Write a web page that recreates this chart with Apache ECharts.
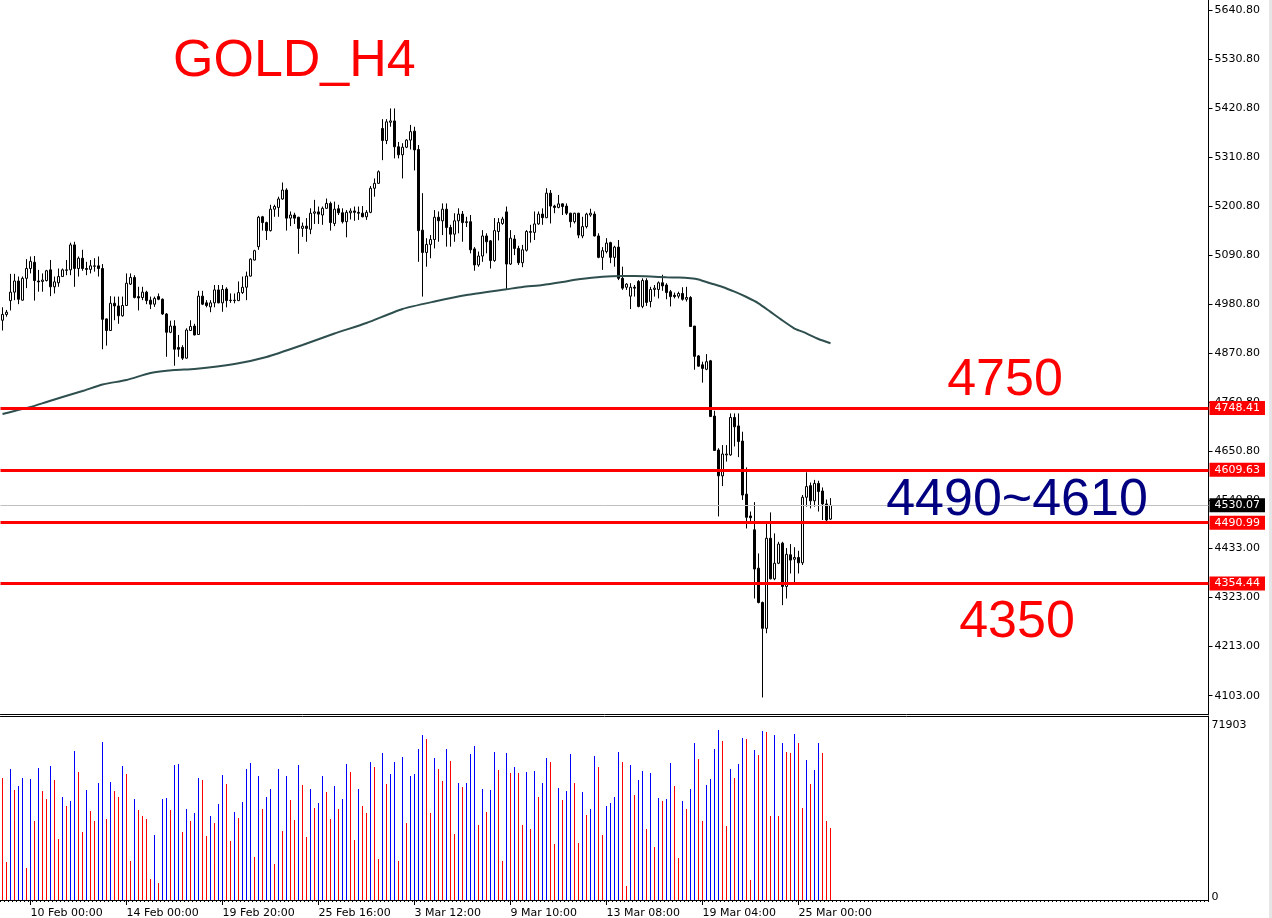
<!DOCTYPE html>
<html>
<head>
<meta charset="utf-8">
<script src="https://cdn.jsdelivr.net/npm/echarts@6/dist/echarts.min.js"></script>
<style>
html,body{margin:0;padding:0;background:#fff;}
#chart{width:1272px;height:918px;}
</style>
</head>
<body>
<div id="chart"></div>
<script>
// ---- data ----
const tickLabels = ['10 Feb 00:00','14 Feb 00:00','19 Feb 20:00','25 Feb 16:00','3 Mar 12:00','9 Mar 10:00','13 Mar 08:00','19 Mar 04:00','25 Mar 00:00'];
const tickStartBar = 7;
const tickStep = 24;
const slotCount = 302;

const opens = [4945,4958,4989,5008,5033,4990,5039,5061,5075,5033,
5032,5034,5058,5020,5029,5043,5057,5058,5114,5061,
5084,5061,5059,5066,5067,5061,4948,4922,4983,4977,
4955,4978,5026,5041,4998,4996,5008,4990,4981,4998,
4992,4959,4918,4932,4884,4884,4860,4922,4932,4913,
4999,4984,4975,4984,5013,4984,5015,4989,4990,4989,
5007,5019,5044,5080,5110,5177,5164,5146,5194,5198,
5217,5237,5174,5181,5176,5151,5156,5149,5185,5188,
5181,5196,5207,5162,5195,5186,5166,5186,5190,5187,
5185,5177,5187,5241,5252,5375,5348,5389,5392,5334,
5316,5333,5349,5369,5328,5147,5097,5115,5126,5176,
5168,5194,5153,5138,5168,5183,5164,5166,5105,5069,
5089,5134,5123,5079,5144,5162,5188,5071,5127,5106,
5074,5102,5142,5142,5161,5183,5175,5230,5201,5198,
5206,5201,5185,5166,5185,5134,5155,5181,5183,5134,
5086,5099,5119,5086,5109,5039,5019,4999,5019,5032,
4976,5034,4987,5014,5014,5029,5024,5009,5001,4999,
5005,4992,4996,4932,4865,4845,4835,4854,4730,4654,
4596,4643,4643,4727,4708,4674,4555,4506,4475,4389,
4312,4254,4456,4365,4400,4445,4348,4419,4409,4413,
4401,4548,4574,4540,4579,4562,4533,4499];

const highs = [4974,4968,5049,5049,5043,5043,5082,5088,5089,5058,
5050,5058,5080,5043,5061,5061,5080,5119,5121,5088,
5103,5076,5080,5084,5088,5071,4949,4999,4998,4998,
4998,5050,5050,5046,5020,5020,5011,4998,4998,5005,
4994,4961,4944,4945,4912,4889,4927,4945,4937,5011,
5011,4990,4990,5024,5024,5024,5019,5005,5005,5032,
5043,5054,5084,5103,5179,5179,5166,5204,5204,5222,
5254,5241,5189,5186,5177,5164,5174,5196,5215,5200,
5200,5218,5211,5211,5204,5196,5192,5196,5200,5200,
5201,5192,5246,5263,5281,5396,5396,5420,5420,5345,
5342,5351,5383,5379,5338,5230,5129,5136,5192,5189,
5207,5207,5159,5185,5196,5190,5177,5181,5109,5099,
5147,5140,5125,5174,5174,5177,5200,5147,5136,5112,
5114,5147,5159,5189,5189,5196,5241,5237,5204,5226,
5207,5207,5186,5186,5186,5177,5186,5195,5189,5140,
5109,5129,5121,5112,5125,5065,5028,5028,5024,5035,
5039,5039,5020,5024,5032,5047,5028,5013,5007,5009,
5019,5020,4999,4932,4867,4852,4869,4856,4742,4658,
4665,4665,4736,4736,4736,4695,4615,4516,4537,4422,
4314,4490,4514,4467,4448,4448,4434,4443,4436,4428,
4553,4604,4581,4587,4585,4570,4543,4546];

const lows = [4922,4953,4967,4990,4981,4989,5017,5050,4989,5009,
5009,5032,4999,5005,5020,5043,5046,5046,5020,5043,
5056,5046,5050,5054,5043,4880,4888,4921,4945,4937,
4953,4977,5024,4994,4967,4990,4981,4970,4975,4990,
4957,4863,4916,4843,4863,4856,4859,4921,4911,4912,
4979,4974,4963,4974,4983,4964,4974,4984,4983,4988,
5004,4990,5043,5079,5103,5146,5125,5144,5177,5177,
5215,5146,5156,5161,5094,5132,5121,5138,5161,5161,
5159,5195,5146,5156,5181,5162,5131,5171,5168,5170,
5176,5170,5185,5222,5251,5304,5340,5379,5308,5308,
5263,5331,5328,5281,5076,4998,5065,5084,5106,5121,
5136,5110,5110,5121,5140,5121,5154,5095,5056,5065,
5076,5095,5061,5076,5124,5159,5014,5069,5091,5069,
5064,5099,5119,5125,5159,5159,5174,5162,5185,5196,
5181,5181,5153,5162,5129,5129,5151,5177,5133,5084,
5058,5095,5073,5065,5035,5013,5013,4970,4998,4974,
4972,4977,4974,4998,4994,5011,4992,4976,4994,4994,
4989,4987,4931,4834,4841,4805,4833,4729,4653,4505,
4573,4628,4641,4662,4638,4542,4478,4493,4321,4310,
4099,4243,4364,4362,4398,4306,4321,4377,4356,4377,
4396,4527,4523,4527,4516,4497,4493,4497];

const closes = [4958,4963,5008,5033,4992,5039,5061,5077,5034,5031,
5035,5056,5020,5031,5043,5058,5058,5114,5061,5084,
5061,5059,5067,5067,5061,4947,4922,4983,4977,4955,
4978,5028,5041,4996,4995,5008,4989,4981,4994,4992,
4959,4918,4932,4880,4880,4860,4923,4931,4912,4999,
4981,4978,4984,5013,4984,5014,4989,4990,4989,5007,
5019,5044,5082,5101,5176,5164,5146,5194,5200,5217,
5237,5174,5181,5174,5151,5156,5151,5185,5188,5183,
5196,5207,5164,5194,5186,5166,5187,5190,5187,5185,
5177,5187,5241,5252,5278,5348,5390,5392,5334,5316,
5333,5349,5368,5327,5146,5097,5115,5126,5176,5168,
5194,5153,5138,5168,5183,5164,5166,5103,5069,5089,
5134,5121,5079,5146,5164,5172,5071,5129,5106,5074,
5103,5144,5144,5161,5183,5175,5230,5201,5198,5206,
5200,5185,5166,5185,5136,5155,5183,5185,5134,5086,
5101,5118,5086,5109,5039,5017,5026,5019,5017,4976,
5034,4985,5014,5017,5029,5022,5007,4998,4998,5005,
4992,4996,4931,4864,4842,4837,4852,4729,4653,4596,
4645,4645,4727,4706,4673,4553,4503,4502,4387,4312,
4254,4456,4365,4400,4443,4348,4420,4407,4413,4401,
4548,4572,4540,4579,4561,4533,4497,4530.07];

const volumes = [51606,16074,55413,46530,48222,51606,13536,51183,33417,55836,
46107,42723,56682,50760,25803,43569,39762,41877,63027,54144,
28764,46530,37647,33417,49491,66834,34263,49914,46107,43569,
56682,53298,16497,42723,38070,35532,34263,8883,27495,7191,
42723,43146,38070,57105,57528,28764,38493,33417,36801,51606,
50760,27072,35532,32571,40608,52875,49068,24957,37224,34686,
41454,55413,57951,18189,52452,38493,43569,46953,15228,55413,
29187,52452,42300,33840,57105,48645,26649,46953,38916,41031,
52452,45684,34263,48222,38493,42723,57528,54144,25380,46953,
39762,36801,58374,56259,17343,62181,49068,53298,58374,16497,
60489,32571,52452,53298,63873,69795,68103,36801,60066,55413,
50337,63873,58797,27918,49491,47799,49491,61758,65142,31725,
46953,37224,46530,62604,54990,16497,62181,53721,56259,53721,
31725,54144,30033,54567,43569,49491,60066,58374,23688,47376,
42300,46107,61758,49491,24111,45684,35955,38493,60912,56259,
27495,39762,41031,43569,62604,58374,5922,57105,44415,50760,
54567,30033,53721,22419,43146,41877,42723,57951,48222,17766,
41877,38493,46953,66411,59643,33417,48645,51183,63873,71903,
67257,31302,55413,51606,57528,68526,68103,8460,63450,61335,
71487,71064,35532,69795,35532,66411,62604,62181,70218,66411,
38916,59220,49068,54990,66411,62181,33417,30456];

const maBars   = [0,3,7,11,15,20,25,31,37,43,48,58,66,75,83,91,100,108,116,126,130,135,140,144,150,155,158,162,166,169,172,174,177,180,183,186,189,192,195,198,200,204,207];
const maValues = [4734.7,4741.5,4750.4,4761.7,4772.9,4786.3,4800.9,4811.0,4826.7,4833.4,4835.7,4846.9,4862.6,4889.5,4915.3,4938.8,4970.2,4987.0,5001.6,5014.4,5019.6,5024.1,5030.8,5036.8,5042.7,5044.2,5044.2,5043.1,5041.3,5040.9,5039.1,5036.4,5027.9,5019.6,5009.0,4997.1,4983.0,4963.7,4944.4,4926.3,4919.3,4903.0,4893.3];

const levelPrices = [4748.41, 4609.63, 4490.99, 4354.44];
const currentPrice = 4530.07;

const priceTicks = [5640.80,5530.80,5420.80,5310.80,5200.80,5090.80,4980.80,4870.80,4760.80,4650.80,4540.80,4433.00,4323.00,4213.00,4103.00];
const volumeTicks = [0, 71903];

const annotations = [
  {text:'GOLD_H4', color:'#ff0000'},
  {text:'4750', color:'#ff0000'},
  {text:'4490~4610', color:'#000080'},
  {text:'4350', color:'#ff0000'}
];

// ---- build ----
const categories = Array.from({length: slotCount}, (_, i) => String(i));
function tickIndex(i){ const k = (i - tickStartBar) / tickStep; return (Number.isInteger(k) && k >= 0 && k < tickLabels.length) ? k : -1; }

const candleData = opens.map((o, i) => [o, closes[i], lows[i], highs[i]]);
const volumeData = volumes.map((v, i) => ({
  value: v,
  itemStyle: {color: (i > 0 && v > volumes[i-1]) ? '#0000ff' : '#ff0000'}
}));
const maData = new Array(opens.length).fill(null);
maBars.forEach((b, k) => { maData[b] = maValues[k]; });

const FONT = 'DejaVu Sans';
const tagLabel = (bg) => ({
  show: true, position: 'end', distance: 1,
  formatter: p => Number(p.value).toFixed(2),
  color: '#fff', backgroundColor: bg, fontFamily: FONT, fontSize: 11,
  padding: [1, 5, 0, 5], lineHeight: 13
});

const markData = levelPrices.map(v => ({
  yAxis: v,
  lineStyle: {color: '#ff0000', width: 3, type: 'solid'},
  label: tagLabel('#ff0000')
}));
markData.unshift({
  yAxis: currentPrice,
  lineStyle: {color: '#c0c0c0', width: 1, type: 'solid'},
  label: tagLabel('#000000')
});

const chart = echarts.init(document.getElementById('chart'), null, {renderer: 'canvas'});
const annoPos = [
  {x: 173, y: 62, align: 'left'},
  {x: 1005, y: 381, align: 'center'},
  {x: 1017, y: 501, align: 'center'},
  {x: 1017, y: 623, align: 'center'}
];

chart.setOption({
  animation: false,
  backgroundColor: '#ffffff',
  grid: [
    {left: 0.5, top: 0, width: 1208, height: 714, containLabel: false, outerBoundsMode: 'none'},
    {left: 0.5, top: 716, width: 1208, height: 184, containLabel: false, outerBoundsMode: 'none'}
  ],
  xAxis: [
    {gridIndex: 0, type: 'category', data: categories, boundaryGap: true,
     axisLine: {show: true, lineStyle: {color: '#000', width: 1}},
     axisTick: {show: false}, axisLabel: {show: false}, splitLine: {show: false}},
    {gridIndex: 1, type: 'category', data: categories, boundaryGap: true, position: 'bottom',
     axisLine: {show: true, lineStyle: {color: '#000', width: 1}},
     axisTick: {show: true, interval: 0, length: 2, lineStyle: {color: '#000'}},
     axisLabel: {show: false}, splitLine: {show: false}},
    {gridIndex: 1, type: 'category', data: categories, boundaryGap: true, position: 'bottom',
     axisLine: {show: false},
     axisTick: {show: true, alignWithLabel: true, length: 5, interval: (i) => tickIndex(i) >= 0, lineStyle: {color: '#000'}},
     axisLabel: {show: true, interval: (i) => tickIndex(i) >= 0, formatter: (v, i) => tickIndex(i) >= 0 ? tickLabels[tickIndex(i)] : '',
       align: 'left', margin: 8, color: '#000', fontFamily: FONT, fontSize: 11},
     splitLine: {show: false}},
    {gridIndex: 1, type: 'category', data: categories, boundaryGap: true, position: 'top',
     axisLine: {show: true, lineStyle: {color: '#000', width: 1}},
     axisTick: {show: false}, axisLabel: {show: false}, splitLine: {show: false}}
  ],
  yAxis: [
    {gridIndex: 0, type: 'value', position: 'right', min: 4061.9, max: 5663.2, scale: true,
     axisLine: {show: true, lineStyle: {color: '#000', width: 1}},
     axisTick: {show: true, length: 4, customValues: priceTicks, lineStyle: {color: '#000'}},
     axisLabel: {show: true, customValues: priceTicks, formatter: v => Number(v).toFixed(2), margin: 6,
       color: '#000', fontFamily: FONT, fontSize: 11},
     splitLine: {show: false}},
    {gridIndex: 1, type: 'value', position: 'right', min: 0, max: 77825,
     axisLine: {show: true, lineStyle: {color: '#000', width: 1}},
     axisTick: {show: false},
     axisLabel: {show: true, customValues: volumeTicks, margin: 3,
       formatter: v => (v > 0 ? '{hi|' + v + '}' : '{lo|' + v + '}'),
       rich: {hi: {padding: [0, 0, 10, 0], fontFamily: FONT, fontSize: 11, color: '#000'},
              lo: {padding: [0, 0, 6, 0], fontFamily: FONT, fontSize: 11, color: '#000'}},
       color: '#000', fontFamily: FONT, fontSize: 11},
     splitLine: {show: false}}
  ],
  series: [
    {type: 'candlestick', xAxisIndex: 0, yAxisIndex: 0, data: candleData, barWidth: 3,
     itemStyle: {color: '#ffffff', color0: '#000000', borderColor: '#000000', borderColor0: '#000000', borderWidth: 1},
     markLine: {silent: true, symbol: ['none', 'none'], animation: false, data: markData}},
    {type: 'line', xAxisIndex: 0, yAxisIndex: 0, data: maData, connectNulls: true, showSymbol: false,
     symbol: 'none', smooth: 0.2, lineStyle: {color: '#2f4f4f', width: 2}, z: 3},
    {type: 'bar', xAxisIndex: 1, yAxisIndex: 1, data: volumeData, barWidth: 1}
  ],
  graphic: annotations.map((a, k) => ({
    type: 'text', x: annoPos[k].x, y: annoPos[k].y, z: 10,
    style: {text: a.text, fill: a.color, font: '52px "Liberation Sans", Arial, sans-serif',
      align: annoPos[k].align, verticalAlign: 'middle'}
  })).concat([{type: 'rect', shape: {x: 1269, y: 0, width: 3, height: 918}, style: {fill: '#e6e6e6'}, z: 0}])
});
</script>
</body>
</html>
